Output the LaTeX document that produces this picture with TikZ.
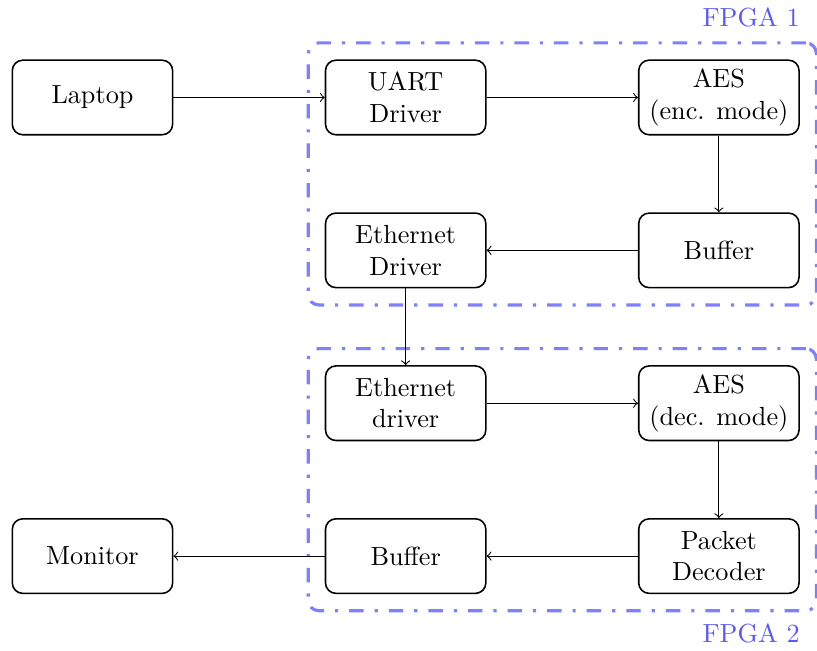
\documentclass[tikz,border=0pt]{standalone}
\usetikzlibrary{fit}

\tikzset{
  block/.style={draw, semithick, rounded corners, minimum width=2.15cm, minimum height=1cm, align=center},
  fpga/.style={draw=blue!50, very thick, rounded corners, dash pattern=on 5.5pt off 4.2pt on 1.2pt off 4.2pt, inner sep=6.3pt},
  fpgalabel/.style={text=blue!65, inner sep=0pt, anchor=base east},
}

\begin{document}
\begin{tikzpicture}[>=to]
\useasboundingbox (-1.24,1.307) rectangle (9.716,-7.41);

% first board
\node[block] (laptop) at (0,0) {Laptop};
\node[block] (uart) at (4.2,0) {UART\\Driver};
\node[block] (aesenc) at (8.4,0) {AES\\(enc. mode)};
\node[block] (bufenc) at (8.4,-2.05) {Buffer};
\node[block] (ethsend) at (4.2,-2.05) {Ethernet\\Driver};

% second board
\node[block] (ethrecv) at (4.2,-4.1) {Ethernet\\driver};
\node[block] (aesdec) at (8.4,-4.1) {AES\\(dec. mode)};
\node[block] (decoder) at (8.4,-6.15) {Packet\\Decoder};
\node[block] (bufdec) at (4.2,-6.15) {Buffer};
\node[block] (monitor) at (0,-6.15) {Monitor};

\node[fpga, fit=(uart)(aesenc)(bufenc)(ethsend)] (fpga1) {};
\node[fpga, fit=(ethrecv)(aesdec)(decoder)(bufdec)] (fpga2) {};
\node[fpgalabel] (lbl1) at (9.49,0.95) {FPGA 1};
\node[fpgalabel] (lbl2) at (9.49,-7.315) {FPGA 2};

\draw[->] (laptop) -- (uart);
\draw[->] (uart) -- (aesenc);
\draw[->] (aesenc) -- (bufenc);
\draw[->] (bufenc) -- (ethsend);
\draw[->] (ethsend) -- (ethrecv);
\draw[->] (ethrecv) -- (aesdec);
\draw[->] (aesdec) -- (decoder);
\draw[->] (decoder) -- (bufdec);
\draw[->] (bufdec) -- (monitor);
\end{tikzpicture}
\end{document}
